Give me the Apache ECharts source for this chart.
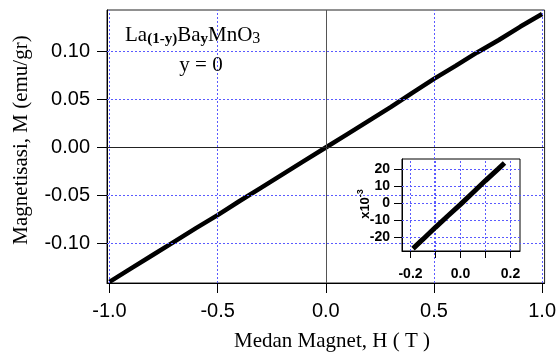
<!DOCTYPE html>
<html>
<head>
<meta charset="utf-8">
<script src="https://cdn.jsdelivr.net/npm/echarts@6/dist/echarts.min.js"></script>
<style>
  html, body { margin: 0; padding: 0; background: #fff; }
  #chart { width: 559px; height: 354px; }
</style>
</head>
<body>
<div id="chart"></div>
<script>
// Magnetisation curve M(H) of La(1-y)BayMnO3, y = 0
const fieldH = [-1.0, -0.9, -0.8, -0.7, -0.6, -0.5, -0.4, -0.3, -0.2, -0.1, 0.0,
                0.1, 0.2, 0.3, 0.4, 0.5, 0.6, 0.7, 0.8, 0.9, 1.0];
const magM = [-0.140, -0.126, -0.112, -0.098, -0.084, -0.0705, -0.056, -0.042, -0.028, -0.014, 0.0,
              0.014, 0.028, 0.042, 0.057, 0.0715, 0.085, 0.099, 0.112, 0.126, 0.139];

// Low-field detail (M in units of 1e-3 emu/gr)
const insetH = [-0.19, -0.15, -0.10, -0.05, 0.0, 0.05, 0.10, 0.15, 0.176];
const insetM = [-26.5, -21.0, -14.0, -7.2, -0.5, 6.5, 13.5, 20.2, 23.8];

// Tick positions
const mainXTicks = [-1.0, -0.5, 0.0, 0.5, 1.0];
const mainYTicks = [-0.10, -0.05, 0.0, 0.05, 0.10];
const mainXGrid = [-1.0, -0.5, 0.5, 1.0];
const mainYGrid = [-0.10, -0.05, 0.05, 0.10];
const insetXTicks = [-0.2, -0.1, 0.0, 0.1, 0.2];
const insetXLabels = [-0.2, 0.0, 0.2];
const insetYTicks = [-20, -10, 0, 10, 20];

const SANS = '"Liberation Sans", Arial, sans-serif';
const SERIF = '"Liberation Serif", "Times New Roman", serif';
const gridBlue = { color: '#5a5aff', type: [2, 2], width: 1 };

const chart = echarts.init(document.getElementById('chart'), null, { renderer: 'canvas' });

function pairs(xs, ys) { return xs.map((x, i) => [x, ys[i]]); }

const option = {
  animation: false,
  backgroundColor: '#fff',
  grid: [
    { left: 107, top: 10, right: 11, bottom: 71, show: true, borderColor: '#222', borderWidth: 1, backgroundColor: 'transparent' },
    { left: 402, top: 159, right: 39, bottom: 103, show: true, borderColor: '#000', borderWidth: 1, backgroundColor: 'transparent' }
  ],
  xAxis: [
    {
      type: 'value', gridIndex: 0, min: -1.01147, max: 1.01147,
      axisLine: { show: true, onZero: false, lineStyle: { color: '#000', width: 1 } },
      axisTick: { show: true, inside: false, length: 10, customValues: mainXTicks, lineStyle: { color: '#000' } },
      axisLabel: { customValues: mainXTicks, margin: 18, color: '#000', fontFamily: SANS, fontSize: 20,
                   formatter: v => Number(v).toFixed(1) },
      splitLine: { show: false }
    },
    {
      type: 'value', gridIndex: 1, min: -0.234, max: 0.238,
      axisLine: { show: true, onZero: false, lineStyle: { color: '#000', width: 1 } },
      axisTick: { show: true, inside: false, length: 7, customValues: insetXTicks, lineStyle: { color: '#000' } },
      axisLabel: { customValues: insetXLabels, margin: 16, color: '#000', fontFamily: SANS, fontSize: 14, fontWeight: 'bold',
                   formatter: v => Number(v).toFixed(1) },
      splitLine: { show: false }
    }
  ],
  yAxis: [
    {
      type: 'value', gridIndex: 0, min: -0.141146, max: 0.143229,
      axisLine: { show: true, onZero: false, lineStyle: { color: '#000', width: 1 } },
      axisTick: { show: true, inside: false, length: 10, customValues: mainYTicks, lineStyle: { color: '#000' } },
      axisLabel: { customValues: mainYTicks, margin: 17, color: '#000', fontFamily: SANS, fontSize: 20,
                   formatter: v => Number(v).toFixed(2) },
      splitLine: { show: false }
    },
    {
      type: 'value', gridIndex: 1, min: -27.941, max: 26.176,
      axisLine: { show: true, onZero: false, lineStyle: { color: '#000', width: 1 } },
      axisTick: { show: true, inside: false, length: 8, customValues: insetYTicks, lineStyle: { color: '#000' } },
      axisLabel: { customValues: insetYTicks, margin: 12, color: '#000', fontFamily: SANS, fontSize: 14, fontWeight: 'bold',
                   formatter: v => String(Math.round(v)) },
      splitLine: { show: false }
    }
  ],
  series: [
    {
      // main grid lines and zero axes
      type: 'line', xAxisIndex: 0, yAxisIndex: 0, data: [], z: 1, silent: true,
      markLine: {
        silent: true, symbol: 'none', label: { show: false }, animation: false,
        data: [
          ...mainXGrid.map(v => ({ xAxis: v, lineStyle: gridBlue })),
          ...mainYGrid.map(v => ({ yAxis: v, lineStyle: gridBlue })),
          { xAxis: 0, lineStyle: { color: '#555', type: 'solid', width: 1 } },
          { yAxis: 0, lineStyle: { color: '#222', type: 'solid', width: 1 } }
        ]
      }
    },
    {
      type: 'line', xAxisIndex: 0, yAxisIndex: 0, z: 3,
      data: pairs(fieldH, magM),
      showSymbol: false, symbol: 'none',
      lineStyle: { color: '#000', width: 4.5 }
    },
    {
      // inset grid lines
      type: 'line', xAxisIndex: 1, yAxisIndex: 1, data: [], z: 4, silent: true,
      markLine: {
        silent: true, symbol: 'none', label: { show: false }, animation: false,
        data: [
          ...insetXTicks.map(v => ({ xAxis: v, lineStyle: gridBlue })),
          ...insetYTicks.map(v => ({ yAxis: v, lineStyle: gridBlue }))
        ]
      }
    },
    {
      type: 'line', xAxisIndex: 1, yAxisIndex: 1, z: 5,
      data: pairs(insetH, insetM),
      showSymbol: false, symbol: 'none',
      lineStyle: { color: '#000', width: 5 }
    }
  ],
  graphic: [
    {
      type: 'text', x: 125, y: 47, z: 10,
      style: {
        text: '{n|La}{s|(1-y)}{n|Ba}{s|y}{n|MnO}{t|3}',
        verticalAlign: 'bottom', align: 'left',
        rich: {
          n: { fontFamily: SERIF, fontSize: 21, lineHeight: 24, fill: '#000', verticalAlign: 'middle' },
          s: { fontFamily: SERIF, fontSize: 15, fontWeight: 'bold', lineHeight: 14, fill: '#000', verticalAlign: 'bottom' },
          t: { fontFamily: SERIF, fontSize: 16, lineHeight: 14, fill: '#000', verticalAlign: 'bottom' }
        }
      }
    },
    {
      type: 'text', x: 201, y: 65, z: 10,
      style: { text: 'y = 0', fontFamily: SERIF, fontSize: 21, fill: '#000', align: 'center', verticalAlign: 'middle' }
    },
    {
      type: 'text', x: 332, y: 341, z: 10,
      style: { text: 'Medan Magnet, H ( T )', fontFamily: SERIF, fontSize: 21, fill: '#000', align: 'center', verticalAlign: 'middle' }
    },
    {
      type: 'text', x: 21, y: 140, rotation: Math.PI / 2, z: 10,
      style: { text: 'Magnetisasi, M (emu/gr)', fontFamily: SERIF, fontSize: 21, fill: '#000', align: 'center', verticalAlign: 'middle' }
    },
    {
      type: 'text', x: 364, y: 204, rotation: Math.PI / 2, z: 10,
      style: {
        text: '{a|x10}{b|-3}', align: 'center', verticalAlign: 'middle',
        rich: {
          a: { fontFamily: SANS, fontSize: 13, fontWeight: 'bold', lineHeight: 16, fill: '#000', verticalAlign: 'bottom' },
          b: { fontFamily: SANS, fontSize: 9, fontWeight: 'bold', lineHeight: 16, fill: '#000', verticalAlign: 'top' }
        }
      }
    }
  ]
};

chart.setOption(option);
</script>
</body>
</html>
